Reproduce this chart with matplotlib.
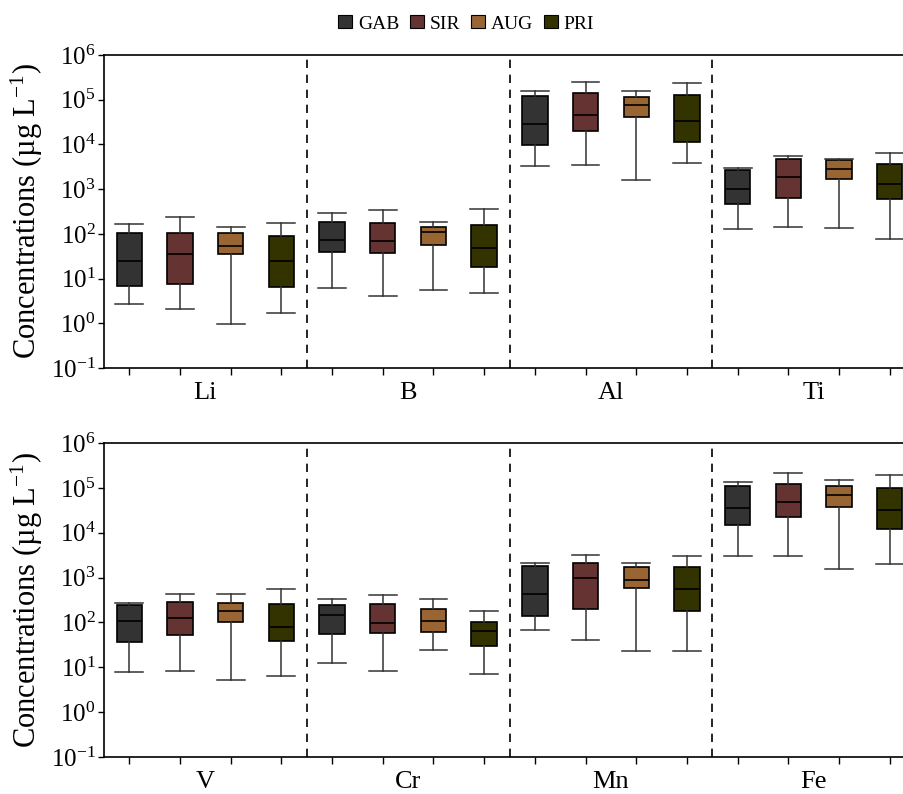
import matplotlib
matplotlib.use('Agg')
import matplotlib.pyplot as plt
from matplotlib.patches import Patch

plt.rcParams['font.family'] = ['Liberation Serif', 'DejaVu Serif']
plt.rcParams['mathtext.fontset'] = 'custom'
plt.rcParams['mathtext.rm'] = 'Liberation Serif'
plt.rcParams['mathtext.it'] = 'Liberation Serif:italic'
plt.rcParams['mathtext.bf'] = 'Liberation Serif:bold'

sites = ['GAB', 'SIR', 'AUG', 'PRI']
colors = ['#333333', '#663333', '#996633', '#333300']

top_elements = ['Li', 'B', 'Al', 'Ti']
bottom_elements = ['V', 'Cr', 'Mn', 'Fe']

# each site: [whisker low, q1, median, q3, whisker high]
Li = [[2.7, 6.9, 24.4, 106, 166], [2.1, 7.7, 34.9, 106, 234],
      [0.96, 35.5, 52.7, 103, 140], [1.7, 6.6, 24.4, 88, 175]]
B = [[6.3, 39, 74, 187, 292], [4.0, 36.7, 70, 178, 341],
     [5.5, 57, 110, 145, 184], [4.8, 18.2, 48, 155, 359]]
Al = [[3270, 9630, 28300, 121600, 154600], [3440, 19800, 45800, 144200, 249500],
      [1590, 42000, 76500, 117500, 154600], [3750, 11200, 33600, 130000, 233000]]
Ti = [[128, 456, 986, 2620, 2950], [145, 621, 1890, 4610, 5570],
      [135, 1706, 2755, 4560, 4610], [78, 600, 1275, 3570, 6280]]
V = [[7.9, 35.9, 106, 240, 276], [8.2, 51.4, 128, 286, 431],
     [5.2, 102, 180, 271, 424], [6.4, 39, 77.6, 253, 567]]
Cr = [[12.4, 54, 144, 240, 339], [8.2, 57, 97, 253, 409],
      [23.8, 62, 109, 199, 339], [7.2, 29.2, 63, 100, 183]]
Mn = [[69, 139, 431, 1787, 2085], [39.7, 196, 998, 2085, 3150],
      [22.6, 577, 901, 1728, 2160], [22.6, 177, 548, 1700, 3100]]
Fe = [[3040, 14700, 35300, 109500, 134600], [3100, 21900, 48900, 121300, 217000],
      [1530, 37200, 70200, 111400, 146600], [2020, 12200, 32400, 98800, 196000]]

top_data = [Li, B, Al, Ti]
bottom_data = [V, Cr, Mn, Fe]

fig = plt.figure(figsize=(9.04, 7.94), dpi=100)
ax_top = fig.add_axes([104/904, 1 - 368/794, 811/904, 313/794])
ax_bot = fig.add_axes([104/904, 1 - 757/794, 811/904, 314/794])


def draw_panel(ax, elements, data):
    stats = []
    positions = []
    facecolors = []
    for g, element in enumerate(data):
        for s, vals in enumerate(element):
            lo, q1, med, q3, hi = vals
            stats.append({'whislo': lo, 'q1': q1, 'med': med, 'q3': q3,
                          'whishi': hi, 'fliers': []})
            positions.append(g * 4 + s)
            facecolors.append(colors[s])
    bp = ax.bxp(stats, positions=positions, widths=0.5, patch_artist=True,
                showfliers=False,
                boxprops=dict(edgecolor='black', linewidth=1.2),
                medianprops=dict(color='black', linewidth=1.2),
                whiskerprops=dict(color='#333333', linewidth=1.1),
                capprops=dict(color='#333333', linewidth=1.1),
                capwidths=0.55)
    for patch, c in zip(bp['boxes'], facecolors):
        patch.set_facecolor(c)
    for x in [3.5, 7.5, 11.5]:
        ax.axvline(x, color='black', linestyle=(0, (5, 4)), linewidth=1.2)
    ax.set_yscale('log')
    ax.set_ylim(0.1, 1e6)
    ax.set_xlim(-0.5, 15.5)
    ax.set_xticks(positions)
    ax.set_xticklabels([])
    ax.tick_params(axis='x', direction='out', length=5, width=1)
    ax.tick_params(axis='y', direction='out', length=4, width=1, labelsize=18, pad=2)
    ax.yaxis.set_minor_locator(plt.NullLocator())
    ax.set_ylabel('Concentrations (µg L$^{-1}$)', fontsize=22, labelpad=4)
    for g, name in enumerate(elements):
        ax.text(g * 4 + 1.5, -0.08, name, transform=ax.get_xaxis_transform(),
                ha='center', va='center', fontsize=19)
    for sp in ax.spines.values():
        sp.set_linewidth(1.2)


draw_panel(ax_top, top_elements, top_data)
draw_panel(ax_bot, bottom_elements, bottom_data)

handles = [Patch(facecolor=c, edgecolor='black', linewidth=0.8) for c in colors]
fig.legend(handles, sites, loc='center', bbox_to_anchor=(466/904, 1 - 24/794),
           ncol=4, frameon=False, fontsize=14, handlelength=0.72, handleheight=0.62,
           handletextpad=0.3, columnspacing=0.55)

fig.savefig('out.png', dpi=100)
